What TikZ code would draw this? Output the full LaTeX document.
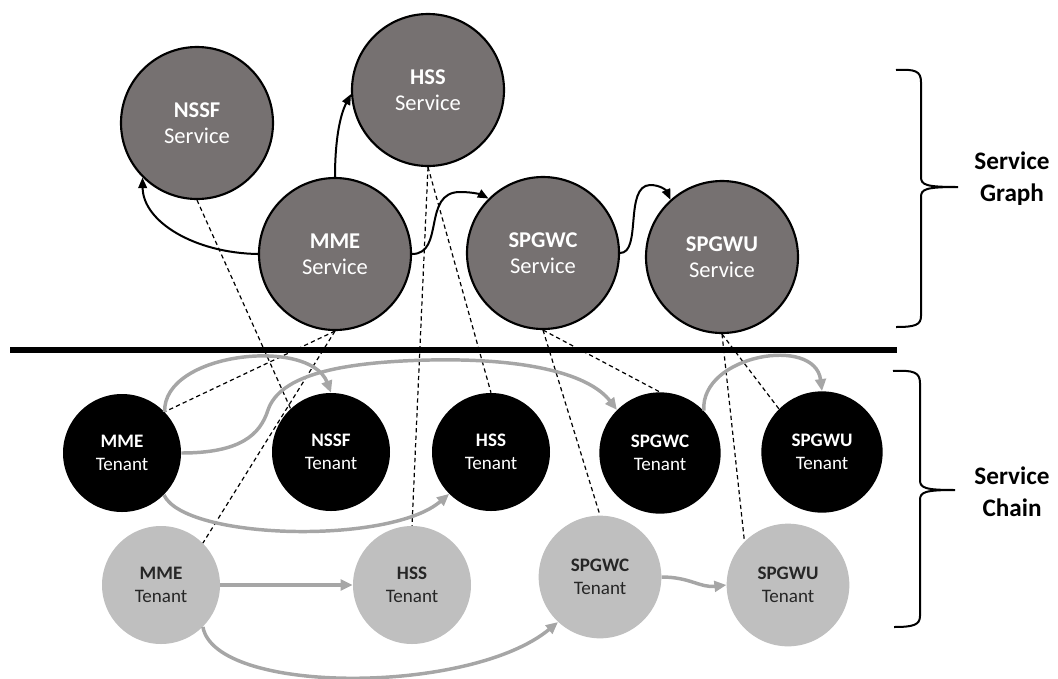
\documentclass[tikz,border=0pt]{standalone}
\usepackage{fontspec}
\setmainfont{Carlito}
\usetikzlibrary{arrows.meta}
\definecolor{svcfill}{HTML}{767171}
\definecolor{lightfill}{HTML}{BFBFBF}
\definecolor{flowgray}{HTML}{A6A6A6}
\definecolor{darktext}{HTML}{262626}

\begin{document}
\begin{tikzpicture}[x=0.75pt,y=-0.75pt,
  svc/.style={circle, draw=black, line width=1.6pt, fill=svcfill, text=white,
    minimum size=114pt, inner sep=0pt, align=center,
    font=\fontsize{16.9pt}{19.5pt}\selectfont},
  tenant/.style={circle, fill=black, text=white, minimum size=88.5pt,
    inner sep=0pt, align=center, font=\fontsize{14.3pt}{17.3pt}\selectfont},
  idle/.style={tenant, fill=lightfill, text=darktext},
  link/.style={draw=black, line width=1.5pt, -{Triangle[length=8pt,width=6.5pt]}},
  flow/.style={draw=flowgray, line width=2.6pt, -{Triangle[length=9pt,width=8pt]}},
  map/.style={draw=black, line width=0.9pt, dash pattern=on 3.2pt off 2.4pt},
  brace/.style={draw=black, line width=1.5pt},
  label/.style={align=center, font=\bfseries\fontsize{18.9pt}{24pt}\selectfont}
]
\useasboundingbox (0,0) rectangle (1058,679);

% service graph
\node[svc] (nssfS)  at (197,123) {\textbf{NSSF}\\Service};
\node[svc] (hssS)   at (428,90)  {\textbf{HSS}\\Service};
\node[svc] (mmeS)   at (335,254) {\textbf{MME}\\Service};
\node[svc] (spgwcS) at (543,253) {\textbf{SPGWC}\\Service};
\node[svc] (spgwuS) at (722,257) {\textbf{SPGWU}\\Service};

% active tenants
\node[tenant] (mmeT)  at (122,453) {\textbf{MME}\\Tenant};
\node[tenant] (nssfT) at (331,452) {\textbf{NSSF}\\Tenant};
\node[tenant] (hssT)  at (491,452) {\textbf{HSS}\\Tenant};
\node[tenant, minimum size=91pt] (spgwcT) at (660,453) {\textbf{SPGWC}\\Tenant};
\node[tenant, minimum size=91pt] (spgwuT) at (822,452) {\textbf{SPGWU}\\Tenant};

% second chain of tenants
\node[idle] (mmeG) at (161,585) {\textbf{MME}\\Tenant};
\node[idle] (hssG) at (412,585) {\textbf{HSS}\\Tenant};
\node[idle, minimum size=92pt] (spgwcG) at (600,577) {\textbf{SPGWC}\\Tenant};
\node[idle, minimum size=92pt] (spgwuG) at (788,585) {\textbf{SPGWU}\\Tenant};

% separator
\coordinate (ruleL) at (10,350);
\coordinate (ruleR) at (897,350);
\draw[line width=3.8pt] (ruleL) -- (ruleR);

% service graph edges
\draw[link] (mmeS.west) .. controls (195,253) and (143,222) .. (nssfS.225);
\draw[link] (mmeS.north) .. controls (335,140) and (340,115) .. (hssS.183);
\draw[link] (mmeS.east) .. controls (445,254) and (422,192) .. (460,192)
  .. controls (474,192) and (482,195) .. (spgwcS.135);
\draw[link] (spgwcS.east) .. controls (642,253) and (624,186) .. (650,185)
  .. controls (660,185) and (666,190) .. (spgwuS.132);

% service to tenant mapping
\draw[map] (nssfS.south) -- (nssfT.133);
\draw[map] (hssS.south) -- (hssT.north);
\draw[map] (hssS.south) -- (hssG.north);
\draw[map] (mmeS.south) -- (mmeT.44);
\draw[map] (mmeS.south) -- (mmeG.45);
\draw[map] (spgwcS.south) -- (spgwcT.north);
\draw[map] (spgwcS.south) -- (spgwcG.north);
\draw[map] (spgwuS.south) -- (spgwuT.135);
\draw[map] (spgwuS.south) -- (spgwuG.135);

% chain flows
\draw[flow] (mmeT.44) .. controls (163,352) and (310,337) .. (nssfT.north);
\draw[flow] (mmeT.east) .. controls (240,453) and (260,435) .. (268,410)
  .. controls (280,375) and (340,362) .. (430,360)
  .. controls (530,358) and (590,375) .. (spgwcT.135);
\draw[flow] (mmeT.-45) .. controls (185,540) and (390,545) .. (hssT.225);
\draw[flow] (spgwcT.44) .. controls (700,355) and (815,335) .. (spgwuT.north);
\draw[flow] (mmeG) -- (hssG);
\draw[flow] (mmeG.-45) .. controls (215,695) and (470,695) .. (spgwcG.227);
\draw[flow] (spgwcG.east) .. controls (690,577) and (700,588) .. (spgwuG.west);

% braces
\coordinate (gTop) at (896,70);
\coordinate (gTip) at (958,187);
\coordinate (gBot) at (896,327);
\draw[brace] (gTop) .. controls (915,69) and (921,71) .. (921,82) -- (921,177)
  .. controls (921,185) and (926,187) .. (gTip)
  .. controls (926,187) and (921,189) .. (921,197) -- (921,316)
  .. controls (921,325) and (915,327) .. (gBot);
\coordinate (cTop) at (893,371);
\coordinate (cTip) at (955,490);
\coordinate (cBot) at (894,627);
\draw[brace] (cTop) .. controls (913,370) and (920,372) .. (920,383) -- (920,480)
  .. controls (920,488) and (925,490) .. (cTip)
  .. controls (925,490) and (920,492) .. (920,500) -- (920,616)
  .. controls (920,625) and (913,627) .. (cBot);

\node[label] (graphLbl) at (1012,179) {Service\\Graph};
\node[label] (chainLbl) at (1012,492) {Service\\Chain};
\end{tikzpicture}
\end{document}
